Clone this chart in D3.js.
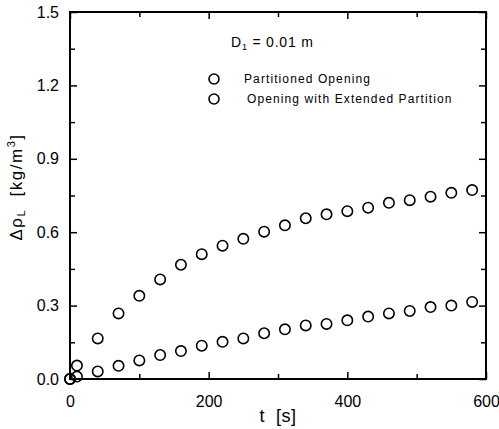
<!DOCTYPE html>
<html>
<head>
<meta charset="utf-8">
<script src="https://cdn.jsdelivr.net/npm/d3@7"></script>
<style>
  body { margin: 0; background: #fff; }
  svg { font-family: "Liberation Sans", Arial, sans-serif; }
  text { white-space: pre; }
</style>
</head>
<body>
<svg width="499" height="429"></svg>
<script>
// time [s]
var tPart = [0, 10, 40, 70, 100, 130, 160, 190, 220, 250, 280, 310, 340, 370, 400, 430, 460, 490, 520, 550, 580];
// Partitioned Opening
var dRhoPart = [0, 0.055, 0.166, 0.268, 0.34, 0.407, 0.467, 0.51, 0.545, 0.573, 0.602, 0.628, 0.657, 0.673, 0.686, 0.70, 0.72, 0.731, 0.745, 0.761, 0.772];
var tExt = [0, 10, 40, 70, 100, 130, 160, 190, 220, 250, 280, 310, 340, 370, 400, 430, 460, 490, 520, 550, 580];
// Opening with Extended Partition
var dRhoExt = [0, 0.01, 0.031, 0.054, 0.076, 0.098, 0.114, 0.136, 0.152, 0.166, 0.187, 0.203, 0.219, 0.225, 0.24, 0.255, 0.268, 0.278, 0.294, 0.30, 0.315];

var xTicks = [0, 200, 400, 600];
var xMinor = [100, 300, 500];
var yTicks = [0, 0.3, 0.6, 0.9, 1.2, 1.5];
var yMinor = [0.15, 0.45, 0.75, 1.05, 1.35];

var svg = d3.select("svg");
var plotL = 70, plotR = 486, plotT = 12, plotB = 379;

var x = d3.scaleLinear().domain([0, 600]).range([plotL, plotR]);
var y = d3.scaleLinear().domain([0, 1.5]).range([plotB, plotT]);

var g = svg.append("g");

// frame
g.append("rect")
    .attr("x", plotL).attr("y", plotT)
    .attr("width", plotR - plotL).attr("height", plotB - plotT)
    .attr("fill", "none").attr("stroke", "#000").attr("stroke-width", 2);

// ticks pointing inward
var bottomAxis = d3.axisBottom(x).tickValues(xTicks).tickSize(-7).tickFormat(d3.format("d")).tickPadding(17);
g.append("g").attr("transform", "translate(0," + plotB + ")").call(bottomAxis);
g.append("g").attr("transform", "translate(0," + plotB + ")")
  .call(d3.axisBottom(x).tickValues(xMinor).tickSize(-5).tickFormat(""));
g.append("g").attr("transform", "translate(0," + plotT + ")")
  .call(d3.axisTop(x).tickValues(xTicks).tickSize(-7).tickFormat(""));
g.append("g").attr("transform", "translate(0," + plotT + ")")
  .call(d3.axisTop(x).tickValues(xMinor).tickSize(-5).tickFormat(""));

var leftAxis = d3.axisLeft(y).tickValues(yTicks).tickSize(-7).tickFormat(d3.format(".1f")).tickPadding(11);
g.append("g").attr("transform", "translate(" + plotL + ",0)").call(leftAxis);
g.append("g").attr("transform", "translate(" + plotL + ",0)")
  .call(d3.axisLeft(y).tickValues(yMinor).tickSize(-5).tickFormat(""));
g.append("g").attr("transform", "translate(" + plotR + ",0)")
  .call(d3.axisRight(y).tickValues(yTicks).tickSize(-7).tickFormat(""));
g.append("g").attr("transform", "translate(" + plotR + ",0)")
  .call(d3.axisRight(y).tickValues(yMinor).tickSize(-5).tickFormat(""));

g.selectAll(".domain").remove();
g.selectAll(".tick line").attr("stroke", "#000").attr("stroke-width", 1.5);
g.selectAll(".tick text").attr("fill", "#000").style("font-size", "16px");

// axis titles
svg.append("text")
    .attr("x", 278).attr("y", 422)
    .attr("text-anchor", "middle")
    .style("font-size", "18px")
    .style("letter-spacing", "0.5px")
    .text("t  [s]");

svg.append("text")
    .attr("transform", "translate(22,187) rotate(-90)")
    .attr("text-anchor", "middle")
    .style("font-size", "17px")
    .style("letter-spacing", "1.5px")
    .html('Δρ<tspan dy="3" font-size="11px">L</tspan><tspan dy="-3">  [kg/m</tspan><tspan dy="-7" font-size="11px">3</tspan><tspan dy="7">]</tspan>');

// points
function drawSeries(ts, vs) {
  g.append("g").selectAll("circle")
    .data(ts.map(function(t, i) { return {t: t, v: vs[i]}; }))
    .enter().append("circle")
      .attr("cx", function(d) { return x(d.t); })
      .attr("cy", function(d) { return y(d.v); })
      .attr("r", 5.2)
      .attr("fill", "none")
      .attr("stroke", "#000")
      .attr("stroke-width", 1.6);
}
drawSeries(tPart, dRhoPart);
drawSeries(tExt, dRhoExt);

// legend
var lg = svg.append("g");
lg.append("text")
    .attr("x", 231).attr("y", 47)
    .style("font-size", "14px")
    .style("letter-spacing", "0.8px")
    .html('D<tspan dy="3" font-size="9px">1</tspan><tspan dy="-3"> = 0.01 m</tspan>');

var legendItems = ["Partitioned Opening", "Opening with Extended Partition"];
lg.selectAll("circle.leg")
  .data(legendItems)
  .enter().append("circle")
    .attr("class", "leg")
    .attr("cx", 214)
    .attr("cy", function(d, i) { return 79 + i * 20; })
    .attr("r", 5)
    .attr("fill", "none").attr("stroke", "#000").attr("stroke-width", 1.6);
lg.selectAll("text.leg")
  .data(legendItems)
  .enter().append("text")
    .attr("class", "leg")
    .attr("x", function(d, i) { return i === 0 ? 244 : 247; })
    .attr("y", function(d, i) { return 83 + i * 20; })
    .style("font-size", "12px")
    .style("letter-spacing", "1.1px")
    .text(function(d) { return d; });
</script>
</body>
</html>
